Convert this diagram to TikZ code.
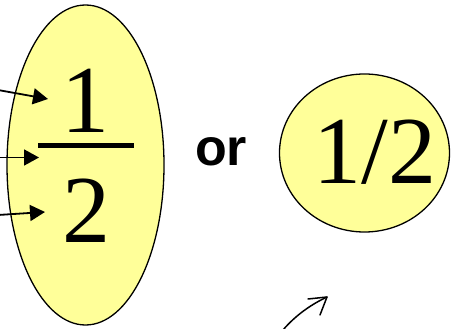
\documentclass[tikz,border=0pt]{standalone}
\usepackage{fontspec}
\setmainfont{Liberation Serif}
\newfontfamily\orfont{Liberation Sans}
\usetikzlibrary{shapes.geometric,arrows.meta}
\definecolor{paleyellow}{RGB}{255,255,153}
\tikzset{
  blob/.style={ellipse, draw=black, line width=1.3pt, fill=paleyellow, inner sep=0pt},
  digit/.style={anchor=base, inner sep=0pt, font=\fontsize{96}{96}\selectfont},
  pointer/.style={line width=1.8pt, -{Triangle[length=15pt,width=16pt]}},
}
\begin{document}
\begin{tikzpicture}[x=1pt,y=-1pt]
\useasboundingbox (0,0) rectangle (451,329);
% big ellipse with fraction
\node[blob, minimum width=157pt, minimum height=320pt] (big) at (85.5,165) {};
\node[digit] (one) at (86,133) {1};
\node[digit] (two) at (86.5,243) {2};
\coordinate (barL) at (38,146);
\coordinate (barR) at (134,146);
\draw[line width=5pt] (barL) -- (barR);
% pointers
\coordinate (s1) at (-2,90);
\coordinate (t1) at (48,99);
\coordinate (s2) at (-2,157.5);
\coordinate (t2) at (39,157.5);
\coordinate (s3) at (-2,215);
\coordinate (t3) at (45,212);
\draw[pointer] (s1) -- (t1);
\draw[pointer] (s2) -- (t2);
\draw[pointer] (s3) -- (t3);
% or
\node[anchor=base west, inner sep=0pt, font=\orfont\bfseries\fontsize{52}{52}\selectfont] (or) at (195,166) {or};
% small ellipse
\node[blob, minimum width=170pt, minimum height=158pt] (small) at (364.5,153) {};
\node[digit] (half) at (375,184) {1/2};
% curved open arrow
\coordinate (cs) at (283,330);
\coordinate (ct) at (327,297);
\coordinate (b1) at (308,299);
\coordinate (b2) at (320,315);
\draw[line width=1.5pt, line cap=round] (cs) .. controls (295,316) and (310,305) .. (ct);
\draw[line width=1.5pt, line cap=round, line join=round] (b1) -- (ct) -- (b2);
\end{tikzpicture}
\end{document}
